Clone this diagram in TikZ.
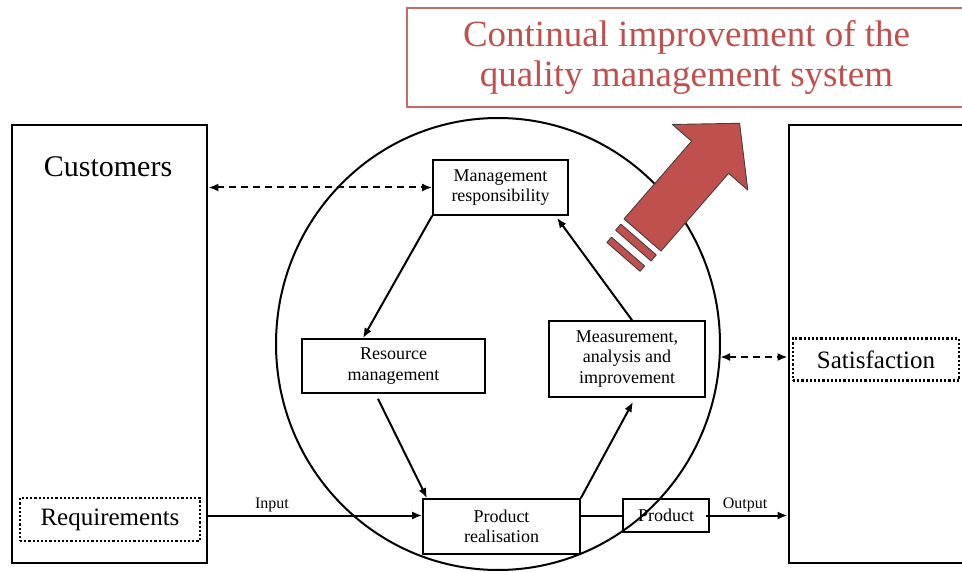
\documentclass[tikz,border=0pt]{standalone}
\usepackage{fontspec}
\setmainfont{Liberation Serif}
\usetikzlibrary{arrows.meta,shapes.geometric}
\definecolor{qred}{HTML}{C0504D}
\begin{document}
\begin{tikzpicture}[x=1pt,y=-1pt,
  box/.style={draw,line width=1.7pt,inner sep=0pt,align=center,font=\fontsize{18}{20.5}\selectfont},
  bigbox/.style={draw,line width=2.8pt,inner sep=0pt},
  dotbox/.style={draw,dotted,line width=2.2pt,inner sep=0pt,font=\fontsize{25}{28}\selectfont},
  conn/.style={line width=2pt,-{Latex[length=10pt,width=8pt]}},
  dconn/.style={line width=2pt,dash pattern=on 7pt off 5pt,{Latex[length=10pt,width=8pt]}-{Latex[length=10pt,width=8pt]}},
  lbl/.style={font=\fontsize{16}{18}\selectfont,inner sep=0pt},
  redshape/.style={fill=qred,draw=black!75,line width=0.9pt,line join=round}]
\useasboundingbox (0,0) rectangle (962,572);
\clip (0,0) rectangle (962,572);

% outer boxes
\node[bigbox, minimum width=195, minimum height=438] (cust) at (109.5,344) {};
\node[font=\fontsize{30}{34}\selectfont] (custtxt) at (108,167) {Customers};
\node[dotbox, minimum width=180, minimum height=43] (req) at (110,519.5) {Requirements};
\node[bigbox, minimum width=220, minimum height=438] (satbox) at (899,344) {};
\node[dotbox, minimum width=166, minimum height=42] (sat) at (876,359.5) {Satisfaction};

% circle
\node[draw, ellipse, line width=2pt, minimum width=444, minimum height=452, inner sep=0pt] (circ) at (498,344) {};

% inner boxes
\node[box, minimum width=135, minimum height=55] (mgmt) at (500.5,187.5) {Management\\responsibility};
\node[box, minimum width=183, minimum height=54] (res) at (393.5,366) {Resource\\management};
\node[box, minimum width=156, minimum height=76] (meas) at (627,359) {Measurement,\\analysis and\\improvement};
\node[box, minimum width=157, minimum height=55] (pr) at (501.5,526.5) {Product\\realisation};
\node[box, minimum width=86, minimum height=33] (prod) at (666,515.5) {Product};

% cycle arrows
\draw[conn] (mgmt.south west) -- ([xshift=-30.5pt]res.north);
\draw[conn] ([xshift=-15.5pt,yshift=-5pt]res.south) -- ([xshift=-74.5pt]pr.north);
\draw[conn] (pr.north east) -- ([xshift=6pt,yshift=-4pt]meas.south);
\draw[conn] ([xshift=5pt]meas.north) -- ([xshift=56.5pt,yshift=-2pt]mgmt.south);

% dashed links
\draw[dconn] (cust.east |- mgmt.west) -- (mgmt.west);
\coordinate (circR) at (720,357);
\draw[dconn] (circR) -- (circR -| satbox.west);

% input / output
\draw[conn] (cust.east |- prod.west) -- (pr.west |- prod.west);
\draw[line width=2pt] (pr.east |- prod.west) -- (prod.west);
\draw[conn] ([xshift=-4pt]prod.east) -- (prod.east -| satbox.west);
\node[lbl] (inlbl) at (272,505) {Input};
\node[lbl] (outlbl) at (745,505) {Output};

% title
\node[draw=qred!85, line width=2pt, minimum width=559, minimum height=99, inner sep=0pt,
      text=qred, font=\fontsize{37}{40}\selectfont, align=center] (title) at (686.5,57.5)
      {Continual improvement of the\\quality management system};

% big red arrow
\begin{scope}[shift={(642.5,235)}, rotate=49]
  \filldraw[redshape] (0,-24.5) -- (103,-24.5) -- (103,-50) -- (148,0) -- (103,50) -- (103,24.5) -- (0,24.5) -- cycle;
  \filldraw[redshape] (-14,-23.5) rectangle (-6,23.5);
  \filldraw[redshape] (-29,-22) rectangle (-22,22);
\end{scope}
\end{tikzpicture}
\end{document}
